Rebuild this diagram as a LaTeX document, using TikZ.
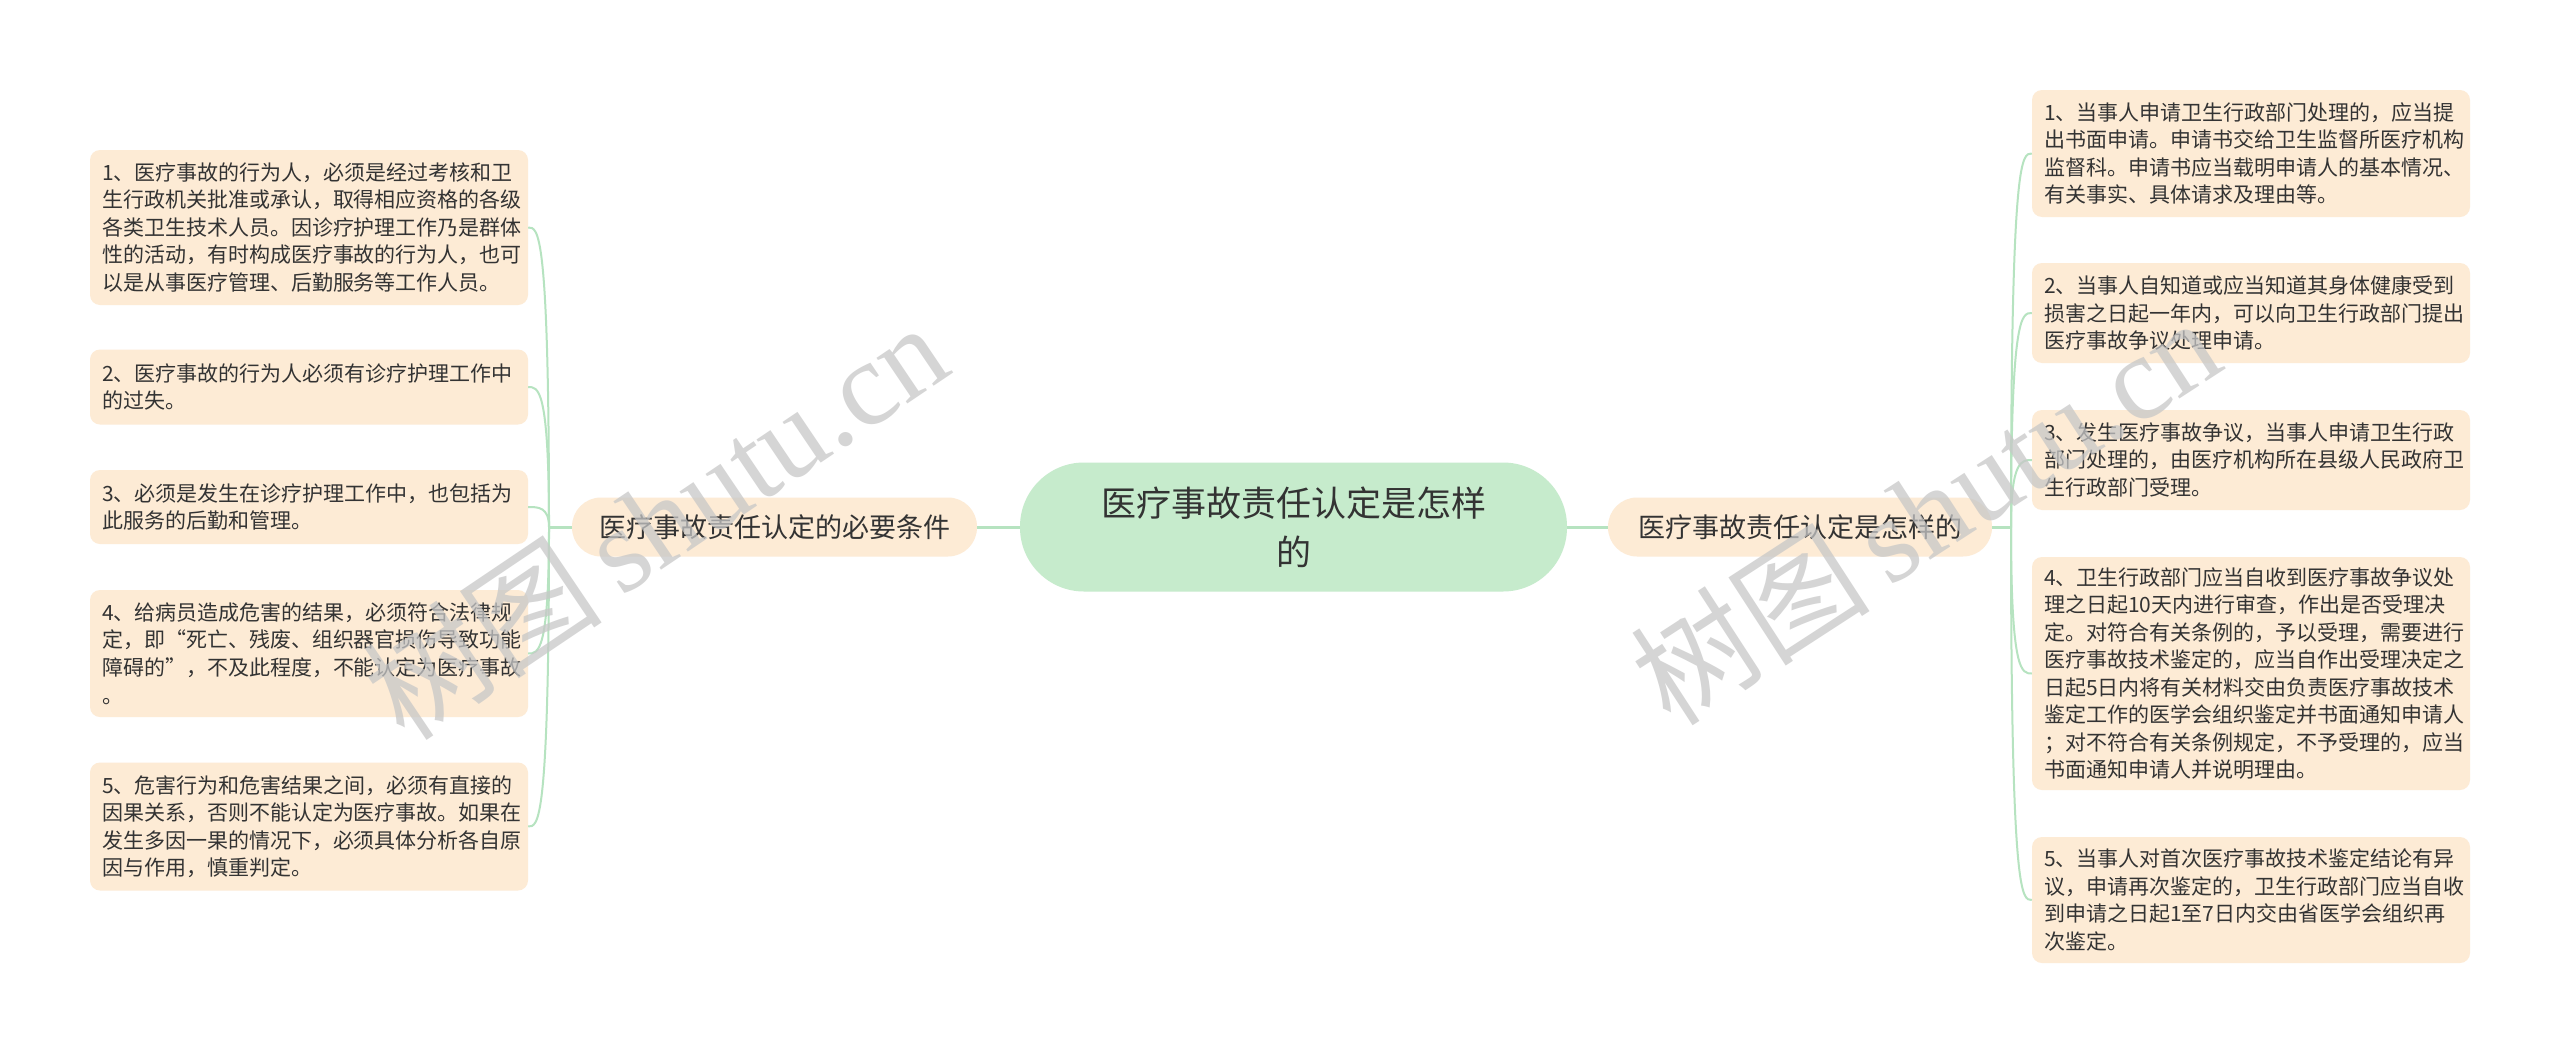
\documentclass[tikz,border=0pt]{standalone}
\usepackage{fontspec}
\setmainfont{Noto Sans CJK SC}
\newfontfamily\cjk{Noto Sans CJK SC}
\newfontfamily\wmlatin{Liberation Serif}
\usetikzlibrary{calc}
\definecolor{leafc}{HTML}{FDEBD5}
\definecolor{rootc}{HTML}{C6EBCC}
\definecolor{linec}{HTML}{B6E3C0}
\definecolor{txtc}{HTML}{333333}
\tikzset{
  leaf/.style={rectangle, rounded corners=10pt, fill=leafc, text=txtc,
    font=\cjk\fontsize{21pt}{27.5pt}\selectfont, align=left,
    text width=414pt, inner xsep=12pt, inner ysep=0pt, minimum width=438pt},
  branchnode/.style={rectangle, rounded corners=29pt, fill=leafc, text=txtc,
    font=\cjk\fontsize{27pt}{32pt}\selectfont, minimum height=59pt, inner sep=0pt},
  rootnode/.style={rectangle, rounded corners=64pt, fill=rootc, text=txtc,
    font=\cjk\fontsize{35pt}{49pt}\selectfont, align=center,
    minimum width=547pt, minimum height=129pt, inner sep=0pt},
  mainline/.style={draw=linec, line width=3pt},
  leafline/.style={draw=linec, line width=2pt},
  watermark/.style={text=black!22, opacity=0.75, font=\fontsize{120pt}{126pt}\selectfont}
}
\begin{document}
\begin{tikzpicture}[x=1pt,y=-1pt]
\useasboundingbox[fill=white] (0,0) rectangle (2560,1055);

% root and branches
\node[rootnode] (root) at (1293.5,527) {医疗事故责任认定是怎样\\的};
\node[branchnode, minimum width=405pt] (lb) at (774.5,527) {医疗事故责任认定的必要条件};
\node[branchnode, minimum width=384pt] (rb) at (1800,527) {医疗事故责任认定是怎样的};

% left leaves
\node[leaf, minimum height=155pt] (L1) at (309,227.5) {1、医疗事故的行为人，必须是经过考核和卫\\生行政机关批准或承认，取得相应资格的各级\\各类卫生技术人员。因诊疗护理工作乃是群体\\性的活动，有时构成医疗事故的行为人，也可\\以是从事医疗管理、后勤服务等工作人员。};
\node[leaf, minimum height=75pt] (L2) at (309,387) {2、医疗事故的行为人必须有诊疗护理工作中\\的过失。};
\node[leaf, minimum height=74pt] (L3) at (309,507) {3、必须是发生在诊疗护理工作中，也包括为\\此服务的后勤和管理。};
\node[leaf, minimum height=127pt] (L4) at (309,653.5) {4、给病员造成危害的结果，必须符合法律规\\定，即“死亡、残废、组织器官损伤导致功能\\障碍的”，不及此程度，不能认定为医疗事故\\。};
\node[leaf, minimum height=128pt] (L5) at (309,826.5) {5、危害行为和危害结果之间，必须有直接的\\因果关系，否则不能认定为医疗事故。如果在\\发生多因一果的情况下，必须具体分析各自原\\因与作用，慎重判定。};

% right leaves
\node[leaf, minimum height=127pt] (R1) at (2251,153.5) {1、当事人申请卫生行政部门处理的，应当提\\出书面申请。申请书交给卫生监督所医疗机构\\监督科。申请书应当载明申请人的基本情况、\\有关事实、具体请求及理由等。};
\node[leaf, minimum height=100pt] (R2) at (2251,313) {2、当事人自知道或应当知道其身体健康受到\\损害之日起一年内，可以向卫生行政部门提出\\医疗事故争议处理申请。};
\node[leaf, minimum height=100pt] (R3) at (2251,460) {3、发生医疗事故争议，当事人申请卫生行政\\部门处理的，由医疗机构所在县级人民政府卫\\生行政部门受理。};
\node[leaf, minimum height=233pt] (R4) at (2251,673.5) {4、卫生行政部门应当自收到医疗事故争议处\\理之日起10天内进行审查，作出是否受理决\\定。对符合有关条例的，予以受理，需要进行\\医疗事故技术鉴定的，应当自作出受理决定之\\日起5日内将有关材料交由负责医疗事故技术\\鉴定工作的医学会组织鉴定并书面通知申请人\\；对不符合有关条例规定，不予受理的，应当\\书面通知申请人并说明理由。};
\node[leaf, minimum height=126pt] (R5) at (2251,900) {5、当事人对首次医疗事故技术鉴定结论有异\\议，申请再次鉴定的，卫生行政部门应当自收\\到申请之日起1至7日内交由省医学会组织再\\次鉴定。};

% junctions
\coordinate (jl) at (549,527);
\coordinate (jr) at (2011,527);

% main connectors
\draw[mainline] (root.west) -- (lb.east);
\draw[mainline] (root.east) -- (rb.west);
\draw[mainline] (lb.west) -- (jl);
\draw[mainline] (rb.east) -- (jr);

% leaf connectors
\foreach \n in {L1,L2,L3,L4,L5}{
  \draw[leafline] (jl) .. controls (jl |- \n.east) and ([xshift=10pt]\n.east) .. (\n.east);
}
\foreach \n in {R1,R2,R3,R4,R5}{
  \draw[leafline] (jr) .. controls (jr |- \n.west) and ([xshift=-10pt]\n.west) .. (\n.west);
}

% watermarks
\node[watermark, rotate=34] (wm1) at (655,520) {\cjk 树图\,\wmlatin shutu.cn};
\node[watermark, rotate=33] (wm2) at (1925,510) {\cjk 树图\,\wmlatin shutu.cn};
\end{tikzpicture}
\end{document}
